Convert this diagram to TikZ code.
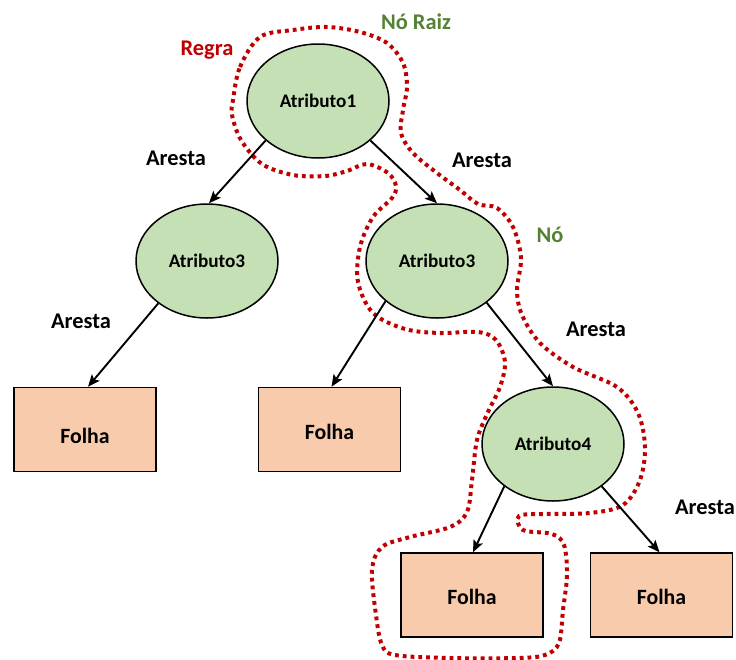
\documentclass[tikz,border=0pt]{standalone}
\usepackage{fontspec}
\setmainfont{Carlito}
\usetikzlibrary{shapes.geometric,arrows.meta}
\definecolor{nodegreen}{HTML}{C5E0B4}
\definecolor{leafpeach}{HTML}{F8CBAD}
\definecolor{rulered}{HTML}{C00000}
\definecolor{labelgreen}{HTML}{548235}
\begin{document}
\begin{tikzpicture}[x=1pt,y=-1pt,
  attr/.style={ellipse,draw=black,line width=1.5pt,fill=nodegreen,
    minimum width=142pt,minimum height=114pt,inner sep=0pt,
    font=\fontsize{19.2}{22}\selectfont\bfseries},
  leaf/.style={rectangle,draw=black,line width=1.5pt,fill=leafpeach,
    minimum width=142pt,minimum height=84pt,inner sep=0pt},
  leaftext/.style={font=\fontsize{21.8}{26}\selectfont\bfseries},
  edge/.style={line width=1.9pt,-{Stealth[length=12pt,width=10pt,inset=2.5pt]}},
  tag/.style={font=\fontsize{22.4}{26}\selectfont\bfseries},
  rulepath/.style={draw=rulered,line width=4pt,dash pattern=on 3.8pt off 4pt}]
\useasboundingbox (0,0) rectangle (736,659);

% rule boundary drawn first so nodes sit on top of it
\draw[rulepath] plot[smooth cycle,tension=0.55] coordinates {
  (233,100) (240,67) (260,37) (293,30) (327,27) (360,32) (387,43) (403,63)
  (407,87) (403,110) (401,133) (413,153) (437,173) (460,190) (478,204)
  (497,208) (513,227) (521,258) (517,290) (522,315) (540,343) (573,367)
  (617,387) (638,413) (645,447) (640,480) (623,505) (590,513) (545,514)
  (519,516) (523,530) (552,534) (564,545) (567,575) (563,610) (559,643)
  (545,655) (517,658) (450,658) (395,655) (382,645) (376,615) (372,570)
  (382,547) (410,537) (450,527) (467,512) (472,480) (477,440) (488,412)
  (500,387) (505,362) (496,340) (478,332) (440,333) (405,329) (373,313)
  (358,282) (360,247) (373,217) (392,198) (396,186) (388,173) (367,164)
  (347,171) (325,176) (293,175) (262,164) (241,140) (232,115)
};

% decision nodes
\node[attr] (a1) at (318,101) {Atributo1};
\node[attr] (a3l) at (207,261) {Atributo3};
\node[attr] (a3r) at (437,261) {Atributo3};
\node[attr] (a4) at (553,444) {Atributo4};

% leaves
\node[leaf,label={[leaftext,yshift=-6pt]center:Folha}] (f1) at (85,429.5) {};
\node[leaf,label={[leaftext,yshift=-2.5pt]center:Folha}] (f2) at (329.5,429.5) {};
\node[leaf,label={[leaftext,yshift=-2pt]center:Folha}] (f3) at (472,595) {};
\node[leaf,label={[leaftext,yshift=-2pt]center:Folha}] (f4) at (661.5,595) {};

% edges
\draw[edge] (a1.217) -- ([xshift=2pt]a3l.north);
\draw[edge] (a1.323) -- (a3r.north);
\draw[edge] (a3l.221) -- ([xshift=3pt]f1.north);
\draw[edge] (a3r.218) -- ([xshift=2pt]f2.north);
\draw[edge] (a3r.320) -- (a4.north);
\draw[edge] (a4.221) -- ([xshift=1pt]f3.north);
\draw[edge] (a4.319) -- ([xshift=-2pt]f4.north);

% labels
\node[tag,text=rulered] (lregra) at (207,50) {Regra};
\node[tag,text=labelgreen] (lraiz) at (416,22) {Nó Raiz};
\node[tag,text=labelgreen] (lno) at (550,235) {Nó};
\node[tag] (e1) at (176,158) {Aresta};
\node[tag] (e2) at (482,160) {Aresta};
\node[tag] (e3) at (81,321) {Aresta};
\node[tag] (e4) at (596,329) {Aresta};
\node[tag] (e5) at (705,507) {Aresta};
\end{tikzpicture}
\end{document}
